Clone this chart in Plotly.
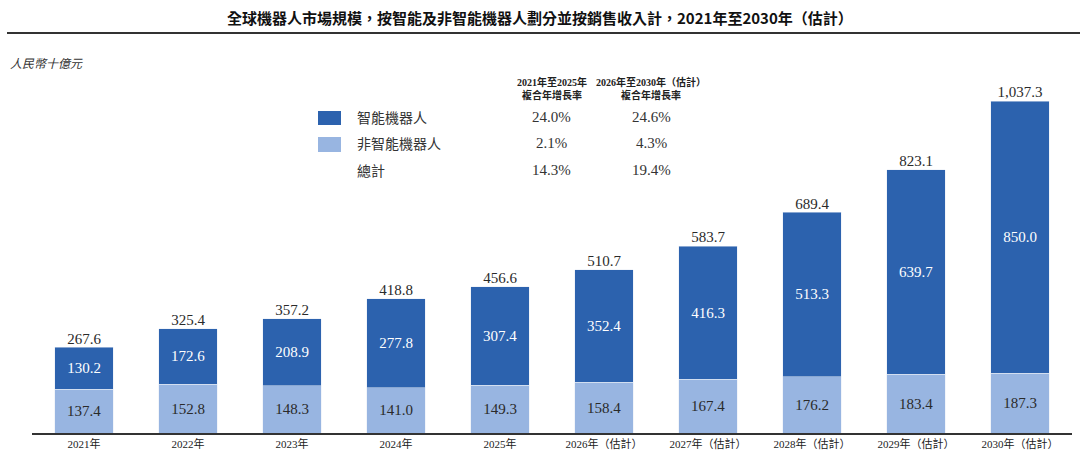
import plotly.graph_objects as go

years = ["2021年", "2022年", "2023年", "2024年", "2025年",
         "2026年（估計）", "2027年（估計）", "2028年（估計）", "2029年（估計）", "2030年（估計）"]
non_smart = [137.4, 152.8, 148.3, 141.0, 149.3, 158.4, 167.4, 176.2, 183.4, 187.3]
smart = [130.2, 172.6, 208.9, 277.8, 307.4, 352.4, 416.3, 513.3, 639.7, 850.0]
totals = [267.6, 325.4, 357.2, 418.8, 456.6, 510.7, 583.7, 689.4, 823.1, 1037.3]
total_labels = ["267.6", "325.4", "357.2", "418.8", "456.6", "510.7", "583.7", "689.4", "823.1", "1,037.3"]

legend_names = ["智能機器人", "非智能機器人", "總計"]
cagr_headers = ["2021年至2025年<br>複合年增長率", "2026年至2030年（估計）<br>複合年增長率"]
cagr_2125 = ["24.0%", "2.1%", "14.3%"]
cagr_2630 = ["24.6%", "4.3%", "19.4%"]

DARK = "#2C62AE"
LIGHT = "#98B5E1"
SERIF = "Liberation Serif, 'Noto Sans CJK TC', serif"
CJK = "'Noto Sans CJK TC', sans-serif"

W, H = 1080, 459
L, R, T, B = 32, 8, 65, 26
PW, PH = W - L - R, H - T - B

def px(x):
    return (x - L) / PW

def py(y):
    return (H - B - y) / PH

fig = go.Figure()
fig.add_trace(go.Bar(
    x=years, y=non_smart, marker_color=LIGHT, name=legend_names[1],
    text=[f"{v:.1f}" for v in non_smart], textposition="inside",
    insidetextanchor="middle", textfont=dict(family=SERIF, size=15, color="#2a2a2a"),
    showlegend=False,
))
fig.add_trace(go.Bar(
    x=years, y=smart, marker_color=DARK, name=legend_names[0],
    text=[f"{v:.1f}" for v in smart], textposition="inside",
    insidetextanchor="middle", textfont=dict(family=SERIF, size=15, color="white"),
    showlegend=False,
))
fig.add_trace(go.Scatter(
    x=years, y=totals, mode="text", text=total_labels, textposition="top center",
    textfont=dict(family=SERIF, size=15, color="#2a2a2a"), showlegend=False,
    cliponaxis=False,
))

shapes = [
    dict(type="rect", xref="paper", yref="paper", x0=px(7), x1=px(1080), y0=py(34), y1=py(32),
         fillcolor="#333", line=dict(width=0), layer="above"),
    dict(type="rect", xref="paper", yref="paper", x0=px(318), x1=px(341), y0=py(125), y1=py(111),
         fillcolor=DARK, line=dict(width=0)),
    dict(type="rect", xref="paper", yref="paper", x0=px(318), x1=px(341), y0=py(152), y1=py(137),
         fillcolor=LIGHT, line=dict(width=0)),
]

annotations = [
    dict(text="<b>全球機器人市場規模，按智能及非智能機器人劃分並按銷售收入計，2021年至2030年（估計）</b>",
         xref="paper", yref="paper", x=px(540), y=py(17), showarrow=False,
         font=dict(family=CJK, size=15, color="#111"), xanchor="center", yanchor="middle"),
    dict(text="<i>人民幣十億元</i>", xref="paper", yref="paper", x=px(8), y=py(62), showarrow=False,
         font=dict(family=CJK, size=12, color="#333"), xanchor="left", yanchor="middle"),
    dict(text="<b>" + cagr_headers[0] + "</b>", xref="paper", yref="paper", x=px(552), y=py(88),
         showarrow=False, font=dict(family=SERIF, size=10, color="#222"), xanchor="center", yanchor="middle"),
    dict(text="<b>" + cagr_headers[1] + "</b>", xref="paper", yref="paper", x=px(651), y=py(88),
         showarrow=False, font=dict(family=SERIF, size=10, color="#222"), xanchor="center", yanchor="middle"),
]
rows_y = [117, 143, 170]
for i, name in enumerate(legend_names):
    annotations.append(dict(text=name, xref="paper", yref="paper", x=px(355), y=py(rows_y[i]),
                            showarrow=False, font=dict(family=CJK, size=14, color="#333"),
                            xanchor="left", yanchor="middle"))
    annotations.append(dict(text=cagr_2125[i], xref="paper", yref="paper", x=px(551), y=py(rows_y[i]),
                            showarrow=False, font=dict(family=SERIF, size=15, color="#333"),
                            xanchor="center", yanchor="middle"))
    annotations.append(dict(text=cagr_2630[i], xref="paper", yref="paper", x=px(651), y=py(rows_y[i]),
                            showarrow=False, font=dict(family=SERIF, size=15, color="#333"),
                            xanchor="center", yanchor="middle"))

fig.update_layout(
    width=W, height=H, barmode="stack", bargap=0.44,
    margin=dict(l=L, r=R, t=T, b=B),
    plot_bgcolor="white", paper_bgcolor="white",
    shapes=shapes, annotations=annotations,
    uniformtext=dict(mode=False),
    xaxis=dict(showline=True, linecolor="#333", linewidth=2, ticks="", showgrid=False,
               tickfont=dict(family=SERIF, size=11, color="#222"), fixedrange=True),
    yaxis=dict(range=[0, 1150], visible=False, showgrid=False, fixedrange=True),
)

fig.write_html("out.html")
